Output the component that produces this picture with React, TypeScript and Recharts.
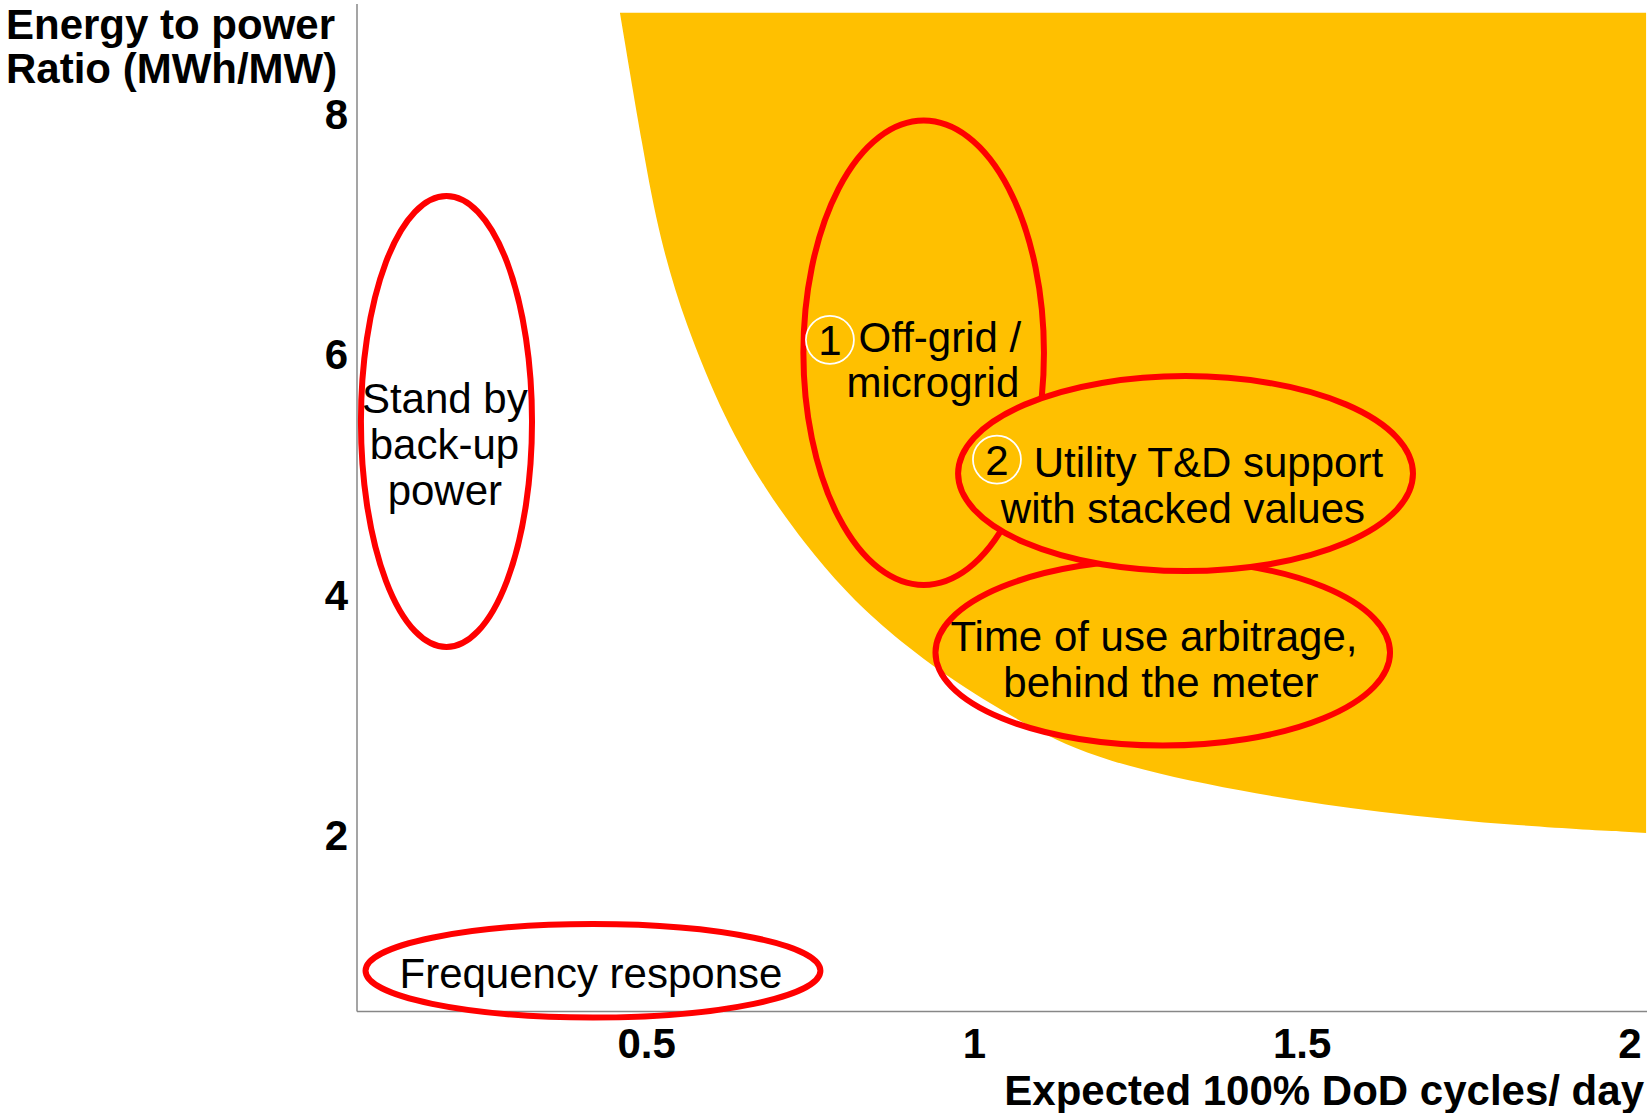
import React from "react";
import { ComposedChart, Area, XAxis, YAxis, ReferenceArea, ReferenceDot } from "recharts";

const FONT = '"Liberation Sans", Arial, Helvetica, sans-serif';
const YELLOW = "#FFC000";
const RED = "#FF0000";
const AXIS = "#878787";

// lower edge of the yellow region (x = cycles/day, y = MWh/MW)
const boundaryX = [0.4591, 0.4942, 0.5202, 0.5583, 0.6193, 0.6804, 0.7414, 0.8024, 0.8634, 0.955, 1.0846, 1.1914, 1.405, 1.6186, 1.8322, 2.0246];
const boundaryY = [8.843, 7.7, 6.951, 6.26, 5.453, 4.879, 4.421, 4.03, 3.714, 3.322, 2.89, 2.615, 2.357, 2.182, 2.074, 2.016];
const regionTop = 8.843;

const xTicks = [0.5, 1, 1.5, 2];
const yTicks = [2, 4, 6, 8];

// use-case ellipses, bounding boxes in data units
const ellipseNames = ["standby", "frequency", "offgrid", "timeofuse", "utility"];
const ellipseX1 = [0.064, 0.071, 0.739, 0.9405, 0.975];
const ellipseX2 = [0.325, 0.765, 1.106, 1.634, 1.669];
const ellipseTop = [7.318, 1.258, 7.946, 4.292, 5.819];
const ellipseBottom = [3.564, 0.48, 4.08, 2.744, 4.196];
const ellipseFilled = [false, false, false, false, true];

// text lines inside the ellipses (centre of each line)
const lineText = [
  "Stand by", "back-up", "power",
  "Frequency response",
  "Off-grid /", "microgrid",
  "Utility T&D support", "with stacked values",
  "Time of use arbitrage,", "behind the meter",
];
const lineX = [0.192, 0.1914, 0.192, 0.4149, 0.9473, 0.9366, 1.3569, 1.318, 1.2738, 1.2845];
const lineY = [5.636, 5.253, 4.871, 0.851, 6.146, 5.772, 5.101, 4.718, 3.658, 3.275];

// small white circles with the numbers
const badgeText = ["1", "2"];
const badgeX = [0.7795, 1.0343];
const badgeY = [6.121, 5.124];

function XTick(props: any) {
  const { x, y, payload } = props;
  return (
    <text x={x} y={y} dy="0.71em" textAnchor="middle" fontSize={42} fontWeight="bold" fill="#000" fontFamily={FONT}>
      {payload.value}
    </text>
  );
}

function YTick(props: any) {
  const { x, y, payload } = props;
  return (
    <text x={x} y={y} dy="0.355em" textAnchor="end" fontSize={42} fontWeight="bold" fill="#000" fontFamily={FONT}>
      {payload.value}
    </text>
  );
}

function YTitle(props: any) {
  const vb = props.viewBox || { x: 0, y: 0 };
  return (
    <text x={vb.x + 6} y={vb.y + 34.5} fontSize={42} fontWeight="bold" fill="#000" fontFamily={FONT}>
      <tspan x={vb.x + 6}>Energy to power</tspan>
      <tspan x={vb.x + 6} dy={44}>Ratio (MWh/MW)</tspan>
    </text>
  );
}

function XTitle(props: any) {
  const vb = props.viewBox || { x: 0, y: 0, width: 0 };
  return (
    <text x={vb.x + vb.width - 3} y={vb.y + 93.5} textAnchor="end" fontSize={42} fontWeight="bold" fill="#000" fontFamily={FONT}>
      Expected 100% DoD cycles/ day
    </text>
  );
}

function ellipseShape(filled: boolean) {
  return (props: any) => {
    const w = Math.abs(props.width);
    const h = Math.abs(props.height);
    const x = Math.min(props.x, props.x + props.width);
    const y = Math.min(props.y, props.y + props.height);
    return (
      <ellipse
        cx={x + w / 2}
        cy={y + h / 2}
        rx={w / 2}
        ry={h / 2}
        fill={filled ? YELLOW : "none"}
        stroke={RED}
        strokeWidth={6}
      />
    );
  };
}

function lineShape(text: string) {
  return (props: any) => (
    <text x={props.cx} y={props.cy} dy={15} textAnchor="middle" fontSize={42} fill="#000" fontFamily={FONT}>
      {text}
    </text>
  );
}

function badgeShape(text: string) {
  return (props: any) => (
    <g>
      <circle cx={props.cx} cy={props.cy} r={24} fill="none" stroke="#fff" strokeWidth={1.75} />
      <text x={props.cx} y={props.cy} dy={15} textAnchor="middle" fontSize={42} fill="#000" fontFamily={FONT}>
        {text}
      </text>
    </g>
  );
}

export default function App() {
  const areaData = boundaryX.map((x, i) => ({ x, range: [boundaryY[i], regionTop] }));

  return (
    <div style={{ position: "absolute", left: 0, top: 0, width: 1647, height: 1113, background: "#fff", fontFamily: FONT }}>
      <ComposedChart width={1647} height={1113} data={areaData} margin={{ top: 4, right: 0, bottom: 0, left: 0 }}>
        <XAxis
          type="number"
          dataKey="x"
          domain={[0.058, 2.026]}
          ticks={xTicks}
          allowDataOverflow
          height={101.5}
          tickSize={0}
          tickMargin={16.5}
          tickLine={false}
          axisLine={{ stroke: AXIS, strokeWidth: 1.5 }}
          tick={XTick}
          label={<XTitle />}
        />
        <YAxis
          type="number"
          domain={[0.53, 8.916]}
          ticks={yTicks}
          allowDataOverflow
          width={357}
          tickSize={0}
          tickMargin={9}
          tickLine={false}
          axisLine={{ stroke: AXIS, strokeWidth: 1.5 }}
          tick={YTick}
          label={<YTitle />}
        />
        <Area
          dataKey="range"
          type="basis"
          fill={YELLOW}
          fillOpacity={1}
          stroke="none"
          dot={false}
          activeDot={false}
          isAnimationActive={false}
        />
        {ellipseNames.map((name, i) => (
          <ReferenceArea
            key={name}
            x1={ellipseX1[i]}
            x2={ellipseX2[i]}
            y1={ellipseBottom[i]}
            y2={ellipseTop[i]}
            ifOverflow="visible"
            shape={ellipseShape(ellipseFilled[i])}
            zIndex={700 + i}
          />
        ))}
        {badgeText.map((t, i) => (
          <ReferenceDot
            key={"badge" + i}
            x={badgeX[i]}
            y={badgeY[i]}
            r={24}
            ifOverflow="visible"
            shape={badgeShape(t)}
            zIndex={800}
          />
        ))}
        {lineText.map((t, i) => (
          <ReferenceDot
            key={"line" + i}
            x={lineX[i]}
            y={lineY[i]}
            r={0}
            ifOverflow="visible"
            shape={lineShape(t)}
            zIndex={900}
          />
        ))}
      </ComposedChart>
    </div>
  );
}
